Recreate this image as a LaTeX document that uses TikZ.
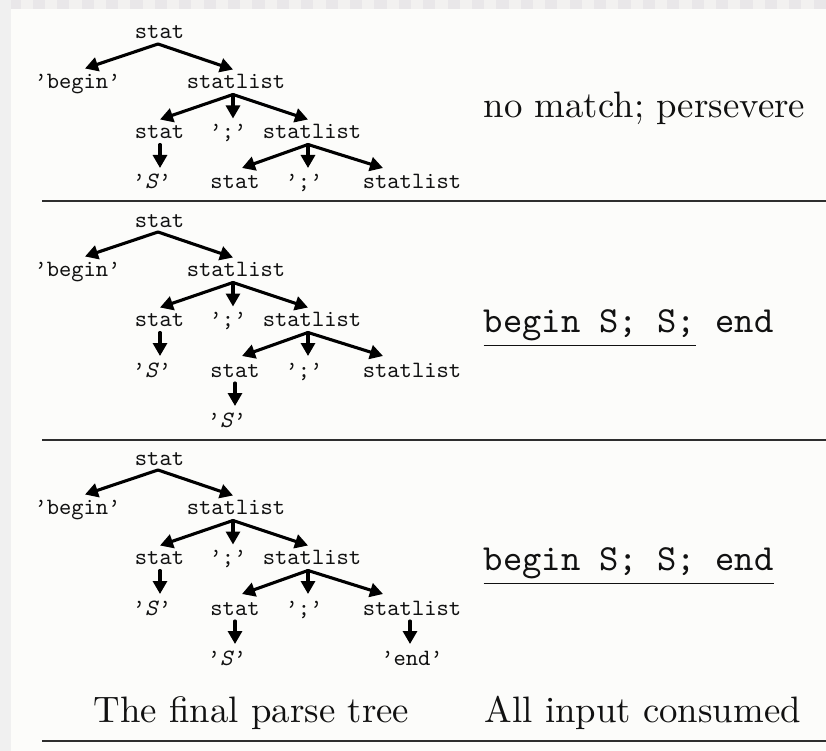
\documentclass[tikz,border=0pt]{standalone}
\usetikzlibrary{arrows.meta,calc}
\definecolor{bgc}{HTML}{FCFCFA}
\definecolor{stripa}{HTML}{E9E7E9}
\definecolor{stripb}{HTML}{F2F1F0}
\definecolor{leftc}{HTML}{F0F0F0}
\definecolor{ink}{HTML}{111111}
\definecolor{rulec}{HTML}{2E2E2E}
\tikzset{
  tt/.style={font=\ttfamily\frenchspacing, scale=2.34, inner sep=0pt, anchor=base, text=ink},
  big/.style={font=\rmfamily\frenchspacing, scale=3.68, inner sep=0pt, anchor=base west, text=ink},
  bigtt/.style={big, font=\ttfamily\frenchspacing},
  arr/.style={draw=black, line width=3.1pt, line cap=round, -{Triangle[length=13pt,width=14pt]}},
  hrule/.style={draw=rulec, line width=1.5pt},
}
\newcommand\ptree[2]{%
  \node[tt] (#1r) at (159.5,#2) {stat};
  \node[tt] (#1b) at (77.5,#2+49.5) {’begin’};
  \node[tt] (#1l) at (236,#2+49.5) {statlist};
  \node[tt] (#1s) at (159.5,#2+99.5) {stat};
  \node[tt] (#1m) at (228,#2+99.5) {’;’};
  \node[tt] (#1k) at (312,#2+99.5) {statlist};
  \node[tt] (#1x) at (152,#2+150) {’\textit{S}’};
  \node[tt] (#1t) at (235,#2+150) {stat};
  \node[tt] (#1n) at (304,#2+150) {’;’};
  \node[tt] (#1z) at (412,#2+150) {statlist};
  \draw[arr] ($(#1r.base)+(-1.5,5)$) -- ($(#1b.base)+(7.5,-20)$);
  \draw[arr] ($(#1r.base)+(-1.5,5)$) -- ($(#1l.base)+(-3,-19)$);
  \draw[arr] ($(#1l.base)+(-3,6)$) -- ($(#1s.base)+(0.5,-19)$);
  \draw[arr] ($(#1l.base)+(-3,6)$) -- ($(#1m.base)+(5,-20)$);
  \draw[arr] ($(#1l.base)+(-3,6)$) -- ($(#1k.base)+(-4,-19)$);
  \draw[arr] ($(#1s.base)+(0.5,6)$) -- ($(#1x.base)+(8,-21)$);
  \draw[arr] ($(#1k.base)+(-4,6)$) -- ($(#1t.base)+(7,-21)$);
  \draw[arr] ($(#1k.base)+(-4,6)$) -- ($(#1n.base)+(4,-21)$);
  \draw[arr] ($(#1k.base)+(-4,6)$) -- ($(#1z.base)+(-29,-21)$);
}
\begin{document}
\begin{tikzpicture}[x=1pt,y=-1pt]
  \useasboundingbox (0,0) rectangle (826,751);
  % background
  \fill[bgc] (0,0) rectangle (826,751);
  \fill[stripb] (0,0) rectangle (826,8.7);
  \foreach \i in {0,...,33} {
    \fill[stripa] ({8.3+24.4*\i},0) rectangle ({20.5+24.4*\i},8.7);
  }
  \fill[leftc] (0,0) rectangle (10.7,751);
  % rules
  \draw[hrule] (42,201) -- (826,201);
  \draw[hrule] (42,440) -- (826,440);
  \draw[hrule] (42,741) -- (826,741);
  % trees
  \ptree{a}{39}
  \ptree{b}{227}
  \node[tt] (bS) at (227,427) {’\textit{S}’};
  \draw[arr] ($(bt.base)+(0,6)$) -- ($(bS.base)+(8,-21)$);
  \ptree{c}{465}
  \node[tt] (cS) at (227,665) {’\textit{S}’};
  \node[tt] (ce) at (412,665) {’end’};
  \draw[arr] ($(ct.base)+(0,6)$) -- ($(cS.base)+(8,-21)$);
  \draw[arr] ($(cz.base)+(-2,6)$) -- ($(ce.base)+(-2,-21)$);
  % right-hand texts
  \node[big] (t1) at (483,118) {no match; persevere};
  \node[bigtt] (t2) at (483,332) {\underline{begin S; S;} end};
  \node[bigtt] (t3) at (483,570) {\underline{begin S; S; end}};
  \node[big] (t4) at (484,722) {All input consumed};
  \node[big, anchor=base] (t5) at (251.5,722) {The final parse tree};
\end{tikzpicture}
\end{document}
